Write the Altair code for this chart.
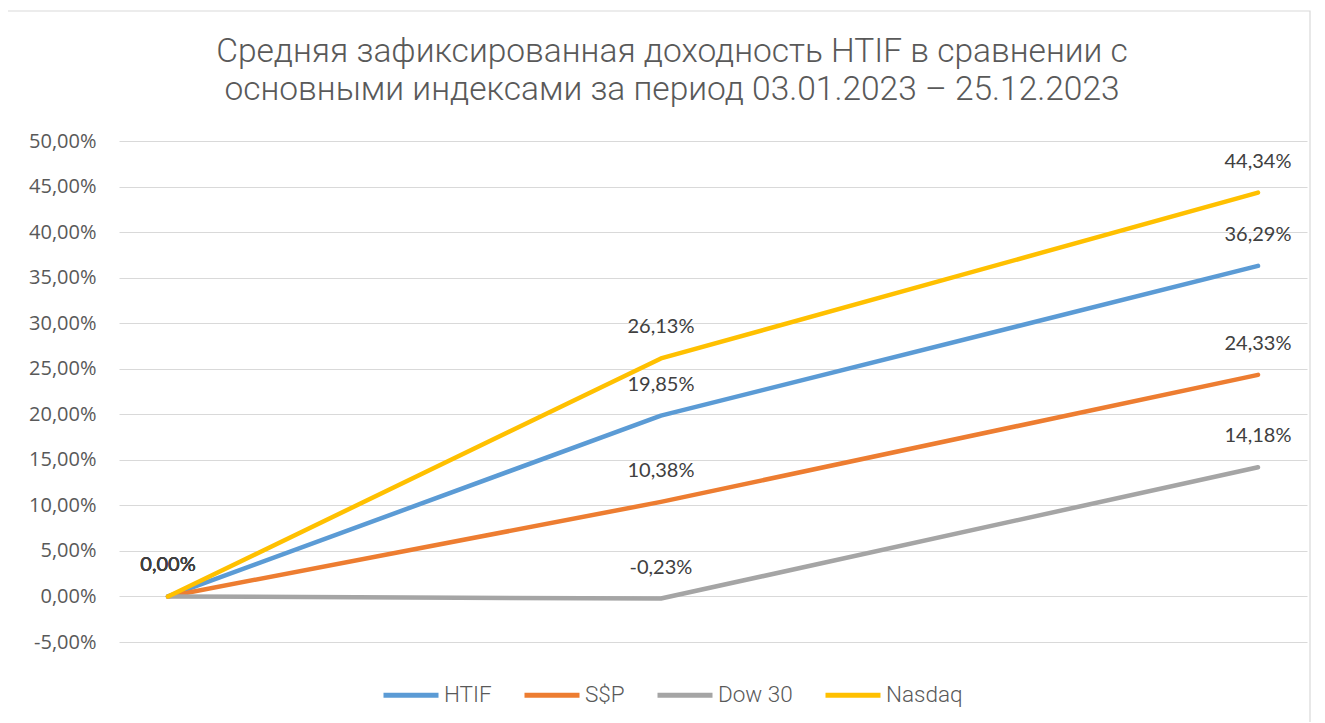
import altair as alt
import pandas as pd

dates = ["2023-01-03", "2023-06-13", "2023-12-25"]
series = ["HTIF", "S$P", "Dow 30", "Nasdaq"]
colors = ["#5B9BD5", "#ED7D31", "#A5A5A5", "#FFC000"]
values = {
    "HTIF": [0.00, 19.85, 36.29],
    "S$P": [0.00, 10.38, 24.33],
    "Dow 30": [0.00, -0.23, 14.18],
    "Nasdaq": [0.00, 26.13, 44.34],
}
y_ticks = [-5, 0, 5, 10, 15, 20, 25, 30, 35, 40, 45, 50]
title_lines = [
    "Средняя зафиксированная доходность HTIF в сравнении с",
    "основными индексами за период 03.01.2023 – 25.12.2023",
]

rows = []
for s in series:
    for d, v in zip(dates, values[s]):
        rows.append({"date": d, "series": s, "value": v})
df = pd.DataFrame(rows)

LIGHT = "Roboto"
fmt = "replace(replace(format(datum.value, '.2f'), '.', ','), '\u2212', '-') + '%'"

x = alt.X("date:T", axis=None,
          scale=alt.Scale(padding=49, nice=False))
y = alt.Y("value:Q",
          scale=alt.Scale(domain=[-5, 50], nice=False, zero=False),
          axis=alt.Axis(values=y_ticks, title=None, domain=False, ticks=False,
                        labelExpr=fmt, labelFont="Open Sans", labelFontSize=20,
                        labelColor="#595959", labelPadding=23,
                        gridColor="#D9D9D9", gridWidth=1.2))
color = alt.Color("series:N",
                  scale=alt.Scale(domain=series, range=colors),
                  legend=alt.Legend(title=None, orient="none", direction="horizontal",
                                    legendX=262, legendY=524,
                                    symbolType="stroke", symbolSize=3025,
                                    symbolStrokeWidth=5, labelFont=LIGHT,
                                    labelFontWeight=300,
                                    labelFontSize=22.5, labelColor="#595959",
                                    labelOffset=3, columnPadding=22))

border = alt.Chart(pd.DataFrame({"b": [0]})).mark_rect(
    fill=None, stroke="#D9D9D9", strokeWidth=1.2
).encode(x=alt.value(-112), x2=alt.value(1191), y=alt.value(-130), y2=alt.value(590))

title_df = pd.DataFrame({"line": title_lines})
title_style = dict(font=LIGHT, fontWeight=300, fontSize=33.5, color="#595959",
                   align="center", baseline="alphabetic")
title1 = alt.Chart(title_df).transform_filter(
    alt.datum.line == title_lines[0]
).mark_text(**title_style).encode(x=alt.value(553), y=alt.value(-79), text="line:N")
title2 = alt.Chart(title_df).transform_filter(
    alt.datum.line == title_lines[1]
).mark_text(**title_style).encode(x=alt.value(553), y=alt.value(-41), text="line:N")

lines = alt.Chart(df).mark_line(strokeWidth=4.5, strokeCap="round", strokeJoin="round").encode(
    x=x, y=y, color=color, order=alt.Order("date:T")
)

labels = alt.Chart(df).transform_calculate(
    lab=fmt
).mark_text(font="Lato", fontSize=20, color="#404040", dy=-31, baseline="middle").encode(
    x=x, y=alt.Y("value:Q"), text="lab:N"
)

chart = alt.layer(border, title1, title2, lines, labels).properties(
    width=1188, height=501,
    autosize=alt.AutoSizeParams(type="none"),
    padding={"left": 111, "top": 133, "right": 10, "bottom": 80},
).configure(background="white").configure_view(stroke=None)

chart.save("out.html", embed_options={"renderer": "svg", "actions": False})
